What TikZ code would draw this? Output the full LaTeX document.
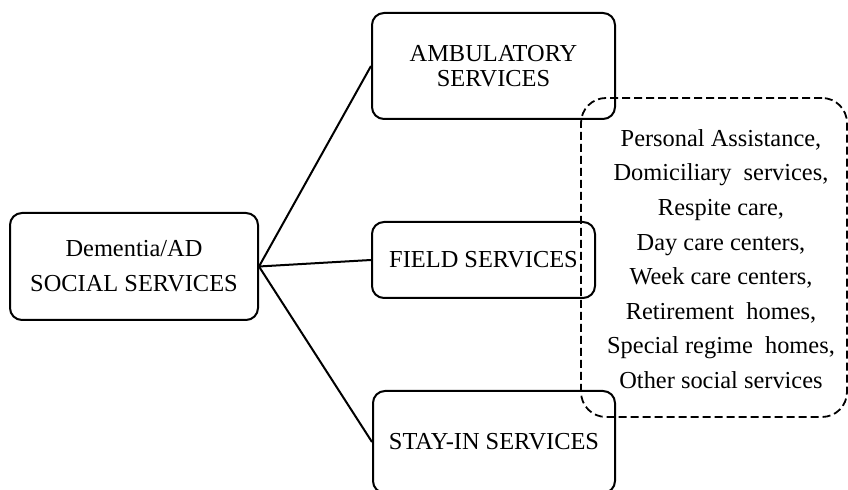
\documentclass[tikz,border=0pt]{standalone}
\usepackage{fontspec}
\setmainfont{Liberation Serif}
\begin{document}
\begin{tikzpicture}[x=0.5pt,y=-0.5pt,
  svcbox/.style={draw, line width=1pt, rounded corners=6pt, inner sep=0pt, align=center, font=\fontsize{12.2}{12.5}\selectfont},
  dashbox/.style={draw, line width=0.9pt, rounded corners=12.5pt, dash pattern=on 4pt off 2pt, inner sep=0pt},
  link/.style={line width=1pt}]
\useasboundingbox (0,0) rectangle (848,490);
\node[svcbox, minimum width=124pt, minimum height=53.5pt, font=\fontsize{12.2}{17.5}\selectfont] (root) at (134,266.5) {Dementia/AD\\SOCIAL SERVICES};
\node[svcbox, minimum width=121.5pt, minimum height=53pt] (amb) at (493.5,66) {AMBULATORY\\SERVICES};
\node[svcbox, minimum width=111.5pt, minimum height=38pt] (field) at (483.5,260) {FIELD SERVICES};
\node[svcbox, minimum width=121pt, minimum height=51pt] (stay) at (494,442) {STAY-IN SERVICES};
\node[dashbox, minimum width=133pt, minimum height=159.5pt] (group) at (714,257.5) {};
\node[align=center, inner sep=0pt, font=\fontsize{12.2}{17.3}\selectfont] (list) at (721,259) {Personal Assistance,\\Domiciliary\ \ services,\\Respite care,\\Day care centers,\\Week care centers,\\Retirement\ \ homes,\\Special regime\ \ homes,\\Other social services};
\draw[link] (root.east) -- (amb.west);
\draw[link] (root.east) -- (field.west);
\draw[link] (root.east) -- (stay.west);
\end{tikzpicture}
\end{document}
